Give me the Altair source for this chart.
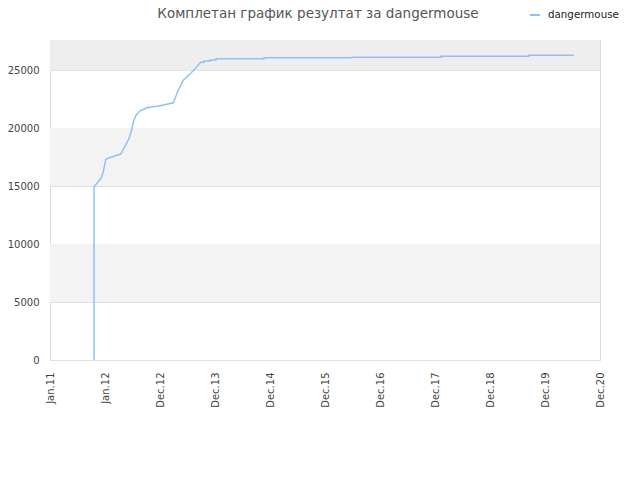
import altair as alt
import pandas as pd

# x positions are on an index axis where each tick label is one unit
x_vals = [0.800, 0.800, 0.927, 0.969, 1.013, 1.091, 1.285, 1.345, 1.436, 1.485,
          1.515, 1.564, 1.636, 1.758, 2.000, 2.242, 2.333, 2.424, 2.605, 2.740,
          2.800, 2.800, 2.909, 2.909, 3.018, 3.018, 3.891, 3.891, 5.491, 5.491,
          7.109, 7.109, 8.709, 8.709, 9.527]
y_vals = [0, 14940, 15670, 16240, 17300, 17470, 17760, 18250, 19100, 19830,
          20540, 21120, 21470, 21750, 21920, 22180, 23280, 24140, 24940, 25690,
          25690, 25780, 25780, 25870, 25870, 25980, 25980, 26060, 26060, 26120,
          26120, 26200, 26200, 26290, 26290]
tick_labels = ["Jan.11", "Jan.12", "Dec.12", "Dec.13", "Dec.14", "Dec.15",
               "Dec.16", "Dec.17", "Dec.18", "Dec.19", "Dec.20"]
y_ticks = [0, 5000, 10000, 15000, 20000, 25000]
y_max = 27600
band_lo = [5000, 15000, 25000]
band_hi = [10000, 20000, 27600]
band_col = ["#f3f3f3", "#f3f3f3", "#eeeeee"]
series = "dangermouse"

df = pd.DataFrame({"x": x_vals, "y": y_vals, "order": list(range(len(x_vals))),
                   "series": [series] * len(x_vals)})
bands = pd.DataFrame({"lo": band_lo, "hi": band_hi, "c": band_col})

label_expr = "[" + ",".join(f"'{t}'" for t in tick_labels) + "][round(datum.value)]"

xs = alt.Scale(domain=[0, 10], nice=False, zero=False)
ys = alt.Scale(domain=[0, y_max], nice=False)

band_layer = alt.Chart(bands).mark_rect().encode(
    x=alt.value(0), x2=alt.value(550),
    y=alt.Y("lo:Q", scale=ys), y2="hi:Q",
    fill=alt.Fill("c:N", scale=None, legend=None),
)

line = alt.Chart(df).mark_line(strokeWidth=1.5).encode(
    x=alt.X("x:Q", scale=xs,
            axis=alt.Axis(values=list(range(11)), labelExpr=label_expr, labelAngle=270,
                          title=None, grid=False, ticks=False, domain=False,
                          labelPadding=12, labelFontSize=10, labelColor="#444",
                          labelFont="DejaVu Sans")),
    y=alt.Y("y:Q", scale=ys,
            axis=alt.Axis(values=y_ticks, format="d", title=None, grid=True,
                          gridColor="#e0e0e0", ticks=False, domain=False,
                          labelPadding=11, labelFontSize=10, labelColor="#444",
                          labelFont="DejaVu Sans")),
    order="order:Q",
    stroke=alt.Stroke("series:N", scale=alt.Scale(range=["#90c0f2"]),
                      legend=alt.Legend(title=None, orient="none", legendX=479, legendY=-31,
                                        symbolType="stroke", symbolSize=100,
                                        symbolStrokeWidth=2, labelFontSize=10.3,
                                        labelOffset=7,
                                        labelFont="DejaVu Sans", labelColor="#222")),
)

chart = alt.layer(band_layer, line).properties(
    width=550, height=320,
    autosize=alt.AutoSizeParams(type="none"),
    padding={"left": 42, "top": 32, "right": 32, "bottom": 60},
    title=alt.Title("Комплетан график резултат за dangermouse", fontSize=13.5,
                    font="DejaVu Sans", fontWeight="normal", color="#555",
                    anchor="middle", frame="group", offset=-11, dx=-7),
).configure_view(stroke="#dddddd")

chart.save("out.html", embed_options={"renderer": "svg", "actions": False})
